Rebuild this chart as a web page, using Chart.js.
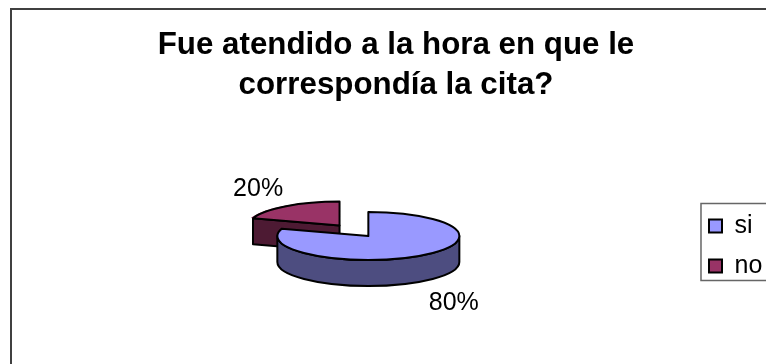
<!DOCTYPE html>
<html>
<head>
<meta charset="utf-8">
<script src="https://cdn.jsdelivr.net/npm/chart.js@4"></script>
<style>
html, body { margin: 0; padding: 0; background: #fff; }
#wrap { position: relative; width: 766px; height: 364px; }
</style>
</head>
<body>
<div id="wrap"><canvas id="chart" width="766" height="364"></canvas></div>
<script>
var categories = ['si', 'no'];
var values = [80, 20];
var topColors = ['#9999FF', '#993366'];
var sideColors = ['#4D4D80', '#4D1A33'];
var titleLines = ['Fue atendido a la hora en que le', 'correspondía la cita?'];

var FONT = '"Liberation Sans", Arial, sans-serif';
var TILT = 0.264;      // squash of the pie disc
var DEPTH = 26;        // height of the pie walls
var RADIUS = 91;
var EXPLODE = 196;     // arc offset, Chart.js divides it by 4

// The pie is a normal Chart.js pie drawn in a squashed context, with walls under it.
function squash(ctx, arc) {
	ctx.translate(arc.x, arc.y);
	ctx.scale(1, TILT);
	ctx.translate(-arc.x, -arc.y);
}

function arcOffset(arc) {
	var mid = (arc.startAngle + arc.endAngle) / 2;
	var dist = (arc.options.offset || 0) / 4;
	return { x: Math.cos(mid) * dist, y: Math.sin(mid) * dist * TILT };
}

function wallPath(ctx, arc) {
	var off = arcOffset(arc);
	var cx = arc.x + off.x;
	var cy = arc.y + off.y;
	var r = arc.outerRadius;
	var start = arc.startAngle;
	var end = arc.endAngle;
	ctx.beginPath();
	// cut faces, only the ones turned towards the viewer
	[[start, Math.cos(start) < -0.001], [end, Math.cos(end) > 0.001]].forEach(function(face) {
		if (face[1]) {
			var tx = cx + Math.cos(face[0]) * r;
			var ty = cy + Math.sin(face[0]) * r * TILT;
			ctx.moveTo(cx, cy);
			ctx.lineTo(tx, ty);
			ctx.lineTo(tx, ty + DEPTH);
			ctx.lineTo(cx, cy + DEPTH);
			ctx.closePath();
		}
	});
	// outer wall on the front half of the ellipse
	var from = Math.max(start, 0);
	var to = Math.min(end, Math.PI);
	if (to > from) {
		ctx.moveTo(cx + Math.cos(from) * r, cy + Math.sin(from) * r * TILT);
		ctx.ellipse(cx, cy, r, r * TILT, 0, from, to);
		ctx.lineTo(cx + Math.cos(to) * r, cy + Math.sin(to) * r * TILT + DEPTH);
		ctx.ellipse(cx, cy + DEPTH, r, r * TILT, 0, to, from, true);
		ctx.closePath();
	}
}

function topPath(ctx, arc) {
	var off = arcOffset(arc);
	var cx = arc.x + off.x;
	var cy = arc.y + off.y;
	ctx.beginPath();
	ctx.moveTo(cx, cy);
	ctx.ellipse(cx, cy, arc.outerRadius, arc.outerRadius * TILT, 0, arc.startAngle, arc.endAngle);
	ctx.closePath();
}

var pie3d = {
	id: 'pie3d',
	afterLayout: function(chart) {
		// title sits a little left of the pie, legend a little lower and tighter
		chart.titleBlock.left = 0;
		chart.titleBlock.right = 792;
		chart.legend.left += 6.3;
		chart.legend.top += 20;
	},
	beforeDraw: function(chart) {
		var ctx = chart.ctx;
		var box = chart.legend;
		var mid = (box.top + box.bottom) / 2 - 4;
		ctx.save();
		ctx.strokeStyle = '#404040';
		ctx.lineWidth = 2;
		// chart frame, open at the bottom and right
		ctx.beginPath();
		ctx.moveTo(11, 364);
		ctx.lineTo(11, 9);
		ctx.lineTo(766, 9);
		ctx.stroke();
		// legend frame
		ctx.strokeStyle = '#666';
		ctx.lineWidth = 1.5;
		ctx.beginPath();
		ctx.moveTo(766, mid - 38.5);
		ctx.lineTo(box.left + 7, mid - 38.5);
		ctx.lineTo(box.left + 7, mid + 38.5);
		ctx.lineTo(766, mid + 38.5);
		ctx.stroke();
		ctx.restore();
	},
	beforeDatasetsDraw: function(chart) {
		var ctx = chart.ctx;
		var arcs = chart.getDatasetMeta(0).data;
		ctx.save();
		ctx.lineWidth = 2;
		ctx.strokeStyle = '#000';
		ctx.lineJoin = 'round';
		// back slice first so the front one covers it
		for (var i = arcs.length - 1; i >= 0; i--) {
			wallPath(ctx, arcs[i]);
			ctx.fillStyle = sideColors[i];
			ctx.fill();
			ctx.stroke();
		}
		ctx.restore();
		ctx.save();
		squash(ctx, arcs[0]);
	},
	afterDatasetsDraw: function(chart) {
		var ctx = chart.ctx;
		var arcs = chart.getDatasetMeta(0).data;
		ctx.restore();
		ctx.save();
		ctx.lineWidth = 2;
		ctx.strokeStyle = '#000';
		ctx.lineJoin = 'round';
		var total = values.reduce(function(a, b) { return a + b; }, 0);
		ctx.font = '25px ' + FONT;
		ctx.textAlign = 'center';
		ctx.textBaseline = 'middle';
		arcs.forEach(function(arc, i) {
			topPath(ctx, arc);
			ctx.stroke();
			var off = arcOffset(arc);
			var mid = (arc.startAngle + arc.endAngle) / 2;
			var sin = Math.sin(mid);
			var lx = arc.x + off.x + Math.cos(mid) * arc.outerRadius * 1.56 + 2;
			var ly = arc.y + off.y + sin * arc.outerRadius * TILT * 1.9 + (sin > 0 ? DEPTH + 4 : 0);
			ctx.fillStyle = '#000';
			ctx.fillText(Math.round(values[i] / total * 100) + '%', lx, ly);
		});
		ctx.restore();
	}
};

new Chart(document.getElementById('chart'), {
	type: 'pie',
	data: {
		labels: categories,
		datasets: [ {
			data: values,
			backgroundColor: topColors,
			borderWidth: 0,
			offset: [0, EXPLODE],
			radius: RADIUS
		} ]
	},
	options: {
		responsive: false,
		animation: false,
		layout: {
			padding: { left: 49, top: 25, right: 0, bottom: 0 }
		},
		plugins: {
			tooltip: { enabled: false },
			title: {
				display: true,
				text: titleLines,
				color: '#000',
				font: { family: FONT, size: 31.3, weight: 'bold', lineHeight: 1.28 },
				padding: { top: 0, bottom: 3 }
			},
			legend: {
				position: 'right',
				fullSize: false,
				labels: {
					color: '#000',
					font: { family: FONT, size: 25 },
					boxWidth: 13,
					boxHeight: 13,
					padding: 15,
					generateLabels: function(chart) {
						return Chart.overrides.pie.plugins.legend.labels.generateLabels(chart).map(function(item) {
							item.lineWidth = 2;
							item.strokeStyle = '#000';
							return item;
						});
					}
				}
			}
		}
	},
	plugins: [ pie3d ]
});
</script>
</body>
</html>
